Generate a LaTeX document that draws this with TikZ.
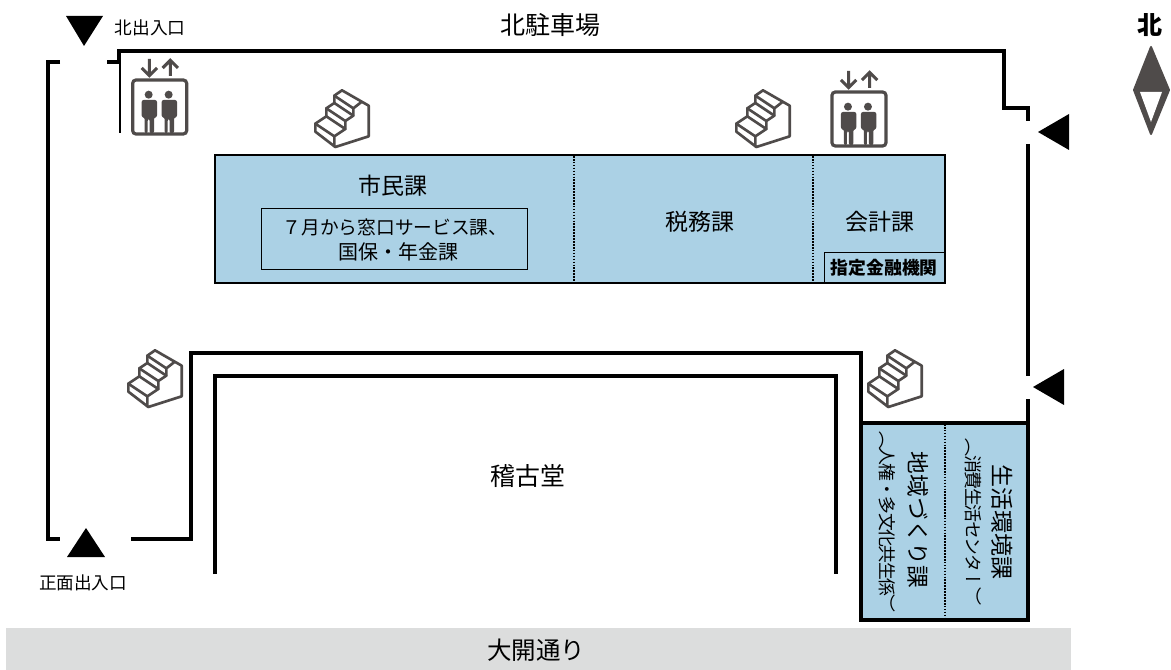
\documentclass[tikz,border=0pt]{standalone}
\usepackage{fontspec}
\setmainfont{Noto Sans CJK JP}
\newfontfamily\vcjk[Vertical=RotatedGlyphs]{Noto Sans CJK JP}
\newfontfamily\vsmall[Vertical=RotatedGlyphs,LetterSpace=-8]{Noto Sans CJK JP}
\definecolor{roomblue}{HTML}{ABD1E5}
\definecolor{roadgray}{HTML}{DCDDDD}
\definecolor{icongray}{HTML}{4F4B4A}
\newdimen\pxd
\newcommand{\pxfont}[1]{\pxd=#1pt \pxd=0.75\pxd \fontsize{\pxd}{1.2\pxd}\selectfont}
\tikzset{
  wall/.style={line width=3pt,line join=miter,line cap=butt,black},
  thinwall/.style={line width=1.5pt,black},
  entrymark/.style={fill=black,draw=none},
  roomedge/.style={line width=2pt,draw=black},
  partition/.style={line width=1.2pt,black,dash pattern=on 1.2pt off 1pt},
  txt/.style={inner sep=0pt,text=black,align=center},
  vtxt/.style={inner sep=0pt,text=black,rotate=-90},
  stairs/.pic={
    \begin{scope}[x=0.25pt,y=-0.25pt,draw=icongray,line width=2pt,line join=round,line cap=round]
      \draw (25,122)--(58,100)--(58,76)--(82,60)--(82,38)--(105,22)--(185,68)--(185,160)--(85,192)--(25,146)--cycle;
      \draw (82,190)--(82,160)--(115,138)--(115,114)--(139,98)--(139,76)--(162,58);
      \draw (25,122)--(82,160) (58,100)--(115,138) (58,76)--(115,114) (82,60)--(139,98) (82,38)--(139,76);
    \end{scope}
  },
  elevator/.pic={
    \begin{scope}[x=0.25pt,y=-0.25pt]
      \draw[icongray,line width=2.4pt,rounded corners=2.5pt] (20,78) rectangle (182,240);
      \draw[icongray,line width=2.3pt] (70,15)--(70,63) (47,42)--(70,65)--(93,42);
      \draw[icongray,line width=2.3pt] (133,66)--(133,20) (110,42)--(133,19)--(156,42);
      \foreach \px in {0,60}{
        \fill[icongray] (68+\px,122) circle[radius=12];
        \fill[icongray,rounded corners=1.5pt] (47+\px,190)--(47+\px,138)--(93+\px,138)--(93+\px,190)--(84+\px,190)--(84+\px,238)--(71+\px,238)--(71+\px,195)--(65+\px,195)--(65+\px,238)--(56+\px,238)--(56+\px,190)--cycle;
      }
    \end{scope}
  }
}
\begin{document}
\begin{tikzpicture}[x=0.75pt,y=-0.75pt]
\useasboundingbox (0,0) rectangle (1171,670);
% road
\fill[roadgray] (6,628) rectangle (1071,670);
\node[txt,font=\pxfont{24.5}] (road) at (536,650) {大開通り};
% rooms
\draw[roomedge,fill=roomblue] (215,155) rectangle (945,283);
\draw[partition] (574,156)--(574,282);
\draw[partition] (813,156)--(813,282);
\fill[roomblue] (861,423) rectangle (1028,620);
\draw[partition] (945,424)--(945,619);
\node[draw=black,line width=1pt,minimum width=90pt,minimum height=22.5pt,inner sep=0pt,anchor=south east,font=\pxfont{17.8}\bfseries] (bank) at (945,283) {指定金融機関};
\node[draw=black,line width=1.1pt,anchor=north west,inner sep=0pt,minimum width=199.5pt,minimum height=45.75pt] (noticebox) at (261,208) {};
% walls
\draw[wall] (60,62)--(47.5,62)--(47.5,539)--(60,539);
\draw[wall] (107,62)--(120,62);
\draw[wall] (119,62)--(119,51)--(1004,51)--(1004,108)--(1028,108)--(1028,121);
\draw[thinwall] (119.5,62)--(119.5,133);
\draw[wall] (1028,144)--(1028,376);
\draw[wall] (1028,399)--(1028,620)--(861,620)--(861,353)--(191,353)--(191,539)--(131,539);
\draw[wall,line width=2.6pt] (861,423)--(1028,423);
\draw[wall] (215,574)--(215,376)--(836,376)--(836,574);
% entrance marks
\fill[entrymark] (66,16)--(103,16)--(84,46)--cycle;
\fill[entrymark] (67,557)--(105,557)--(86,528)--cycle;
\fill[entrymark] (1038,132)--(1069,114)--(1069,150)--cycle;
\fill[entrymark] (1033,387)--(1064,369)--(1064,405)--cycle;
% compass
\fill[icongray,line join=round,draw=icongray,line width=1.5pt] (1151,47)--(1169,90)--(1151,134)--(1134,90)--cycle;
\fill[white] (1140,92)--(1162,92)--(1151,122)--cycle;
% icons
\pic at (126,54) {elevator};
\pic at (825.3,66) {elevator};
\pic at (307,83) {stairs};
\pic at (728,83) {stairs};
\pic at (860,343) {stairs};
\pic at (120,343) {stairs};
% labels
\node[txt,font=\pxfont{25}] (north) at (550,25) {北駐車場};
\node[txt,font=\pxfont{25}\bfseries] (northmark) at (1150,25) {北};
\node[txt,font=\pxfont{17.7}] (nexit) at (150,28) {北出入口};
\node[txt,font=\pxfont{17.6}] (fexit) at (83,583) {正面出入口};
\node[txt,font=\pxfont{23}] (shimin) at (393,186) {市民課};
\node[txt,font=\pxfont{18.7}] (mado) at (395,227) {７月から窓口サービス課、};
\node[txt,font=\pxfont{20}] (kokuho) at (398,252) {国保・年金課};
\node[txt,font=\pxfont{23}] (zeimu) at (700,222) {税務課};
\node[txt,font=\pxfont{23}] (kaikei) at (880,222) {会計課};
\node[txt,font=\pxfont{25}] (keiko) at (528,476) {稽古堂};
\node[vtxt,font=\pxfont{22.7}\vcjk] (chiiki) at (918,520) {地域づくり課};
\node[vtxt,font=\pxfont{17.8}\vsmall] (jinken) at (887,522) {（人権・多文化共生係）};
\node[vtxt,font=\pxfont{23}\vcjk] (seikatsu) at (1002,522) {生活環境課};
\node[vtxt,font=\pxfont{18}\vsmall] (shohi) at (973,522) {（消費生活センター）};
\end{tikzpicture}
\end{document}
